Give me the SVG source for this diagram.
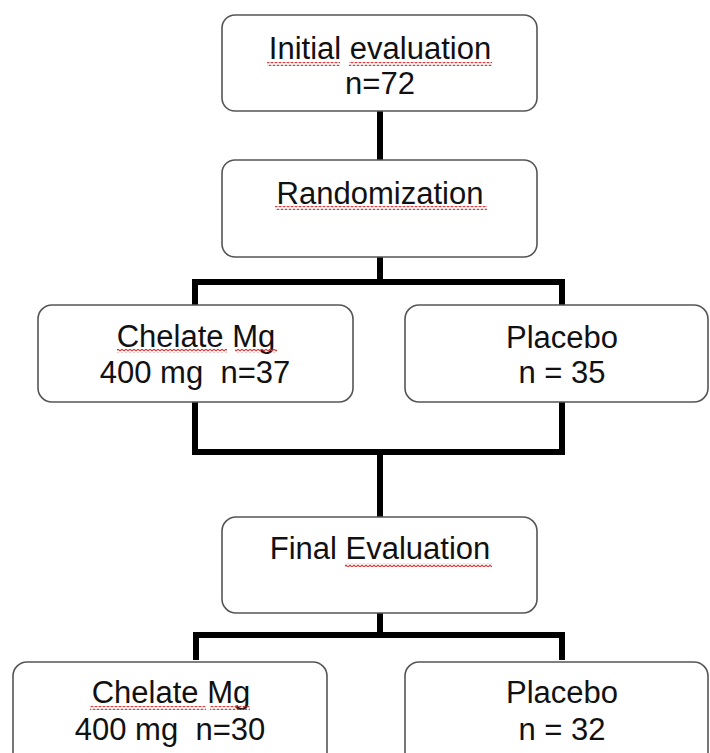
<svg xmlns="http://www.w3.org/2000/svg" width="710" height="753" viewBox="0 0 710 753">
<style>
.box{fill:#fff;stroke:#555;stroke-width:1.6}
.t{font-family:"Liberation Sans",Arial,sans-serif;font-size:31px;fill:#111;text-anchor:middle}
.c{fill:none;stroke:#000;stroke-width:6;stroke-linejoin:miter}
.sq{fill:url(#wave)}
</style>
<defs>
<pattern id="wave" patternUnits="userSpaceOnUse" width="4" height="4">
<path d="M0,3 L2,1 L4,3" fill="none" stroke="#d23a3a" stroke-width="1.2"/>
</pattern>
</defs>
<rect width="710" height="753" fill="#fff"/>
<g id="connectors">
<line class="c" x1="380" y1="111" x2="380" y2="160"/>
<polyline class="c" points="195,305 195,282 562,282 562,305"/>
<line class="c" x1="380" y1="257" x2="380" y2="282"/>
<polyline class="c" points="195,402 195,452 562,452 562,402"/>
<line class="c" x1="380" y1="452" x2="380" y2="517"/>
<line class="c" x1="380" y1="613" x2="380" y2="635"/>
<polyline class="c" points="196,660 196,635 562,635 562,660"/>
</g>
<g id="initial">
<rect class="box" x="222" y="15" width="315" height="96" rx="13"/>
<text class="t" x="380" y="59">Initial evaluation</text>
<text class="t" x="380" y="94">n=72</text>
<rect class="sq" x="267" y="62" width="73" height="4"/>
<rect class="sq" x="349" y="62" width="143" height="4"/>
</g>
<g id="randomization">
<rect class="box" x="222" y="160" width="315" height="97" rx="13"/>
<text class="t" x="380" y="204">Randomization</text>
<rect class="sq" x="275" y="206" width="212" height="4"/>
</g>
<g id="chelate1">
<rect class="box" x="38" y="305" width="315" height="97" rx="14"/>
<text class="t" x="196" y="347">Chelate Mg</text>
<text class="t" x="195" y="383" xml:space="preserve">400 mg  n=37</text>
<rect class="sq" x="117" y="349" width="110" height="4"/>
<rect class="sq" x="235" y="349" width="42" height="4"/>
</g>
<g id="placebo1">
<rect class="box" x="405" y="305" width="303" height="97" rx="14"/>
<text class="t" x="562" y="348">Placebo</text>
<text class="t" x="562" y="383">n = 35</text>
</g>
<g id="final">
<rect class="box" x="222" y="517" width="315" height="96" rx="14"/>
<text class="t" x="380" y="559">Final Evaluation</text>
<rect class="sq" x="345" y="563" width="147" height="4"/>
</g>
<g id="chelate2">
<rect class="box" x="13" y="662" width="314" height="110" rx="14"/>
<text class="t" x="171" y="703">Chelate Mg</text>
<text class="t" x="170" y="740" xml:space="preserve">400 mg  n=30</text>
<rect class="sq" x="90" y="706" width="116" height="4"/>
<rect class="sq" x="210" y="706" width="40" height="4"/>
</g>
<g id="placebo2">
<rect class="box" x="405" y="662" width="303" height="110" rx="14"/>
<text class="t" x="562" y="703">Placebo</text>
<text class="t" x="562" y="740">n = 32</text>
</g>
</svg>
